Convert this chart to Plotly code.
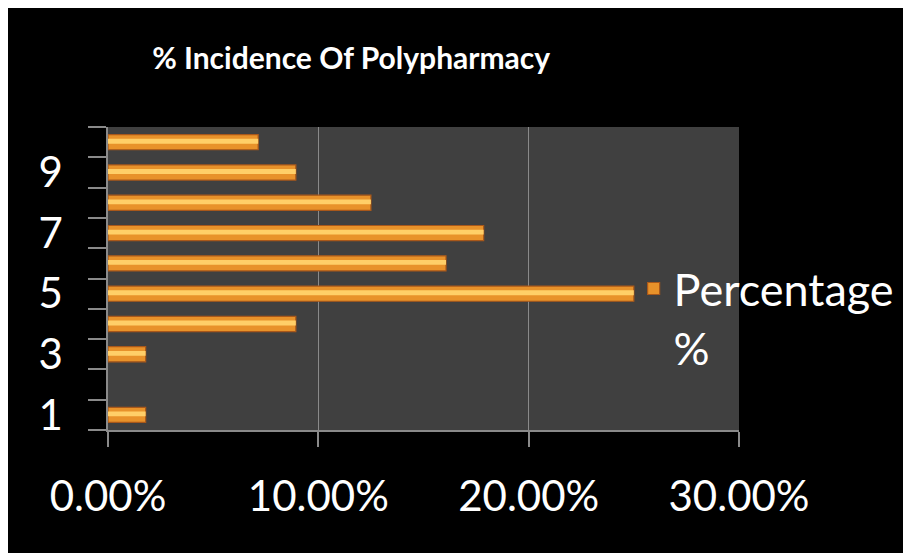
import plotly.graph_objects as go

categories = [1, 2, 3, 4, 5, 6, 7, 8, 9, 10]
percentage = [0.0179, 0.0, 0.0179, 0.0893, 0.25, 0.1607, 0.1786, 0.125, 0.0893, 0.0714]
y_tick_vals = [1, 3, 5, 7, 9]
y_tick_text = ["1", "3", "5", "7", "9"]
x_tick_vals = [0, 0.1, 0.2, 0.3]
series_name = "Percentage<br>%"
title_text = "% Incidence Of Polypharmacy"

FONT = "Lato, 'Open Sans', sans-serif"
AXIS = "#8a8a8a"

outline_w = [0 if v == 0 else 1.2 for v in percentage]

fig = go.Figure()
fig.add_trace(go.Bar(
    y=categories, x=percentage, orientation="h", name=series_name,
    width=0.5,
    marker=dict(color="#E8922A", line=dict(color="#A9581A", width=outline_w)),
))
fig.add_trace(go.Bar(
    y=categories, x=percentage, orientation="h", showlegend=False,
    width=0.16, offset=-0.05, hoverinfo="skip",
    marker=dict(color="#FFCF68", line=dict(width=0)),
))

fig.update_layout(
    width=903, height=545,
    paper_bgcolor="black", plot_bgcolor="#404040",
    margin=dict(l=100, r=170, t=119, b=123),
    barmode="overlay",
    title=dict(text="<b>" + title_text + "</b>", x=0.38, xanchor="center",
               y=0.908, yanchor="middle", xref="container", yref="container",
               font=dict(family=FONT, size=30, color="white")),
    showlegend=True,
    legend=dict(x=0.833, xanchor="left", y=0.585, yanchor="top",
                bgcolor="rgba(0,0,0,0)", valign="top",
                font=dict(family=FONT, size=45, color="white")),
    xaxis=dict(range=[0, 0.3], tickvals=x_tick_vals, tickformat=".2%",
               showgrid=True, gridcolor=AXIS, gridwidth=1,
               showline=True, linecolor=AXIS, linewidth=1.5,
               ticks="outside", ticklen=15, tickcolor=AXIS, tickwidth=1.5,
               ticklabelstandoff=14, zeroline=False,
               tickfont=dict(family=FONT, size=42, color="white")),
    yaxis=dict(range=[0.5, 10.5], tickvals=y_tick_vals, ticktext=y_tick_text,
               showgrid=False, showline=True, linecolor=AXIS, linewidth=1.5,
               ticks="", ticklabelstandoff=35, zeroline=False,
               minor=dict(ticks="outside", ticklen=18, tickcolor=AXIS, tickwidth=1.5,
                          tickmode="linear", tick0=0.5, dtick=1, showgrid=False),
               tickfont=dict(family=FONT, size=42, color="white")),
)

fig.write_html("out.html")
